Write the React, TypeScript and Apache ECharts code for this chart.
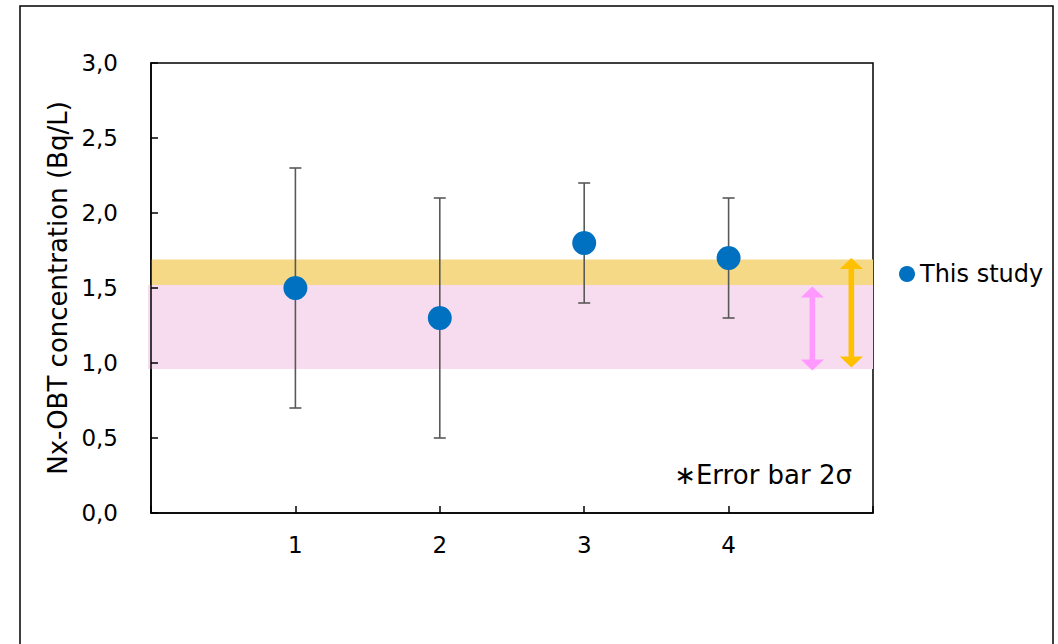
import React, { useEffect, useRef } from "react";
import * as echarts from "echarts";

// ---- data ----
const categories = [1, 2, 3, 4];
const values = [1.5, 1.3, 1.8, 1.7];
const errLow = [0.7, 0.5, 1.4, 1.3];
const errHigh = [2.3, 2.1, 2.2, 2.1];
const yTickValues = [0, 0.5, 1, 1.5, 2, 2.5, 3];
const xTickLabels = ["1", "2", "3", "4"];
const bandLow = [0.96, 1.52];
const bandHigh = [1.52, 1.69];
const arrowX = [4.58, 4.85];
const arrowLow = [0.95, 0.97];
const arrowHigh = [1.51, 1.7];
const seriesName = "This study";
const noteText = "∗Error bar 2σ";
const yTitle = "Nx-OBT concentration (Bq/L)";

const bandColors = ["#F7DCEF", "#F6D987"];
const arrowColors = ["#FF99FF", "#FFC000"];
const FONT = "DejaVu Sans";

export default function App() {
  const ref = useRef<HTMLDivElement>(null);
  useEffect(() => {
    if (!ref.current) return;
    const chart = echarts.init(ref.current, null, { renderer: "svg" });

    const bandData = bandLow.map((l, i) => [l, bandHigh[i], i]);
    const arrowData = arrowX.map((x, i) => [x, arrowLow[i], arrowHigh[i], i]);
    const errData = categories.map((c, i) => [c, errLow[i], errHigh[i]]);
    const pointData = categories.map((c, i) => [c, values[i]]);

    const option: any = {
      animation: false,
      backgroundColor: "#fff",
      grid: {
        left: 151,
        right: 185,
        top: 63,
        bottom: 131,
        show: true,
        borderColor: "#000",
        borderWidth: 1.5,
        backgroundColor: "transparent",
      },
      legend: {
        data: [{ name: seriesName, icon: "circle" }],
        left: 899,
        top: 262,
        padding: 0,
        itemWidth: 16,
        itemHeight: 16,
        textStyle: { fontFamily: FONT, fontSize: 24, color: "#000" },
      },
      xAxis: {
        type: "value",
        min: 0,
        max: 5,
        interval: 1,
        z: 5,
        axisLine: { show: true, lineStyle: { color: "#000", width: 1.5 } },
        axisTick: { show: true, inside: true, length: 7, lineStyle: { color: "#000", width: 1.5 } },
        splitLine: { show: false },
        axisLabel: {
          margin: 20,
          fontFamily: FONT,
          fontSize: 23,
          color: "#000",
          formatter: (v: number) => {
            const idx = categories.indexOf(v);
            return idx >= 0 ? xTickLabels[idx] : "";
          },
        },
      },
      yAxis: {
        type: "value",
        min: 0,
        max: 3,
        interval: 0.5,
        z: 5,
        name: yTitle,
        nameLocation: "middle",
        nameGap: 76,
        nameTextStyle: { fontFamily: FONT, fontSize: 26, color: "#000" },
        axisLine: { show: true, lineStyle: { color: "#000", width: 1.5 } },
        axisTick: { show: true, inside: true, length: 7, lineStyle: { color: "#000", width: 1.5 } },
        splitLine: { show: false },
        axisLabel: {
          margin: 33,
          fontFamily: FONT,
          fontSize: 23,
          color: "#000",
          formatter: (v: number) =>
            yTickValues.some((t) => Math.abs(t - v) < 1e-9) ? v.toFixed(1).replace(".", ",") : "",
        },
      },
      series: [
        {
          type: "custom",
          name: "bands",
          z: 1,
          silent: true,
          data: bandData,
          renderItem: (params: any, api: any) => {
            const lo = api.value(0);
            const hi = api.value(1);
            const idx = api.value(2);
            const p1 = api.coord([0, hi]);
            const p2 = api.coord([5, lo]);
            const extraLeft = idx === 0 ? 3 : 0;
            return {
              type: "rect",
              shape: { x: p1[0] - extraLeft, y: p1[1], width: p2[0] - p1[0] + extraLeft, height: p2[1] - p1[1] },
              style: { fill: bandColors[idx] },
            };
          },
        },
        {
          type: "custom",
          name: "arrows",
          z: 3,
          silent: true,
          data: arrowData,
          renderItem: (params: any, api: any) => {
            const x = api.value(0);
            const lo = api.value(1);
            const hi = api.value(2);
            const idx = api.value(3);
            const top = api.coord([x, hi]);
            const bot = api.coord([x, lo]);
            const cx = top[0];
            const hw = 11.5;
            const hh = 11;
            const sw = 2.8;
            const pts = [
              [cx, top[1]],
              [cx + hw, top[1] + hh],
              [cx + sw, top[1] + hh],
              [cx + sw, bot[1] - hh],
              [cx + hw, bot[1] - hh],
              [cx, bot[1]],
              [cx - hw, bot[1] - hh],
              [cx - sw, bot[1] - hh],
              [cx - sw, top[1] + hh],
              [cx - hw, top[1] + hh],
            ];
            return {
              type: "polygon",
              shape: { points: pts },
              style: { fill: arrowColors[idx] },
            };
          },
        },
        {
          type: "custom",
          name: "errors",
          z: 3,
          silent: true,
          data: errData,
          renderItem: (params: any, api: any) => {
            const x = api.value(0);
            const lo = api.coord([x, api.value(1)]);
            const hi = api.coord([x, api.value(2)]);
            const cw = 6;
            const st = { stroke: "#595959", lineWidth: 1.6 };
            return {
              type: "group",
              children: [
                { type: "line", shape: { x1: lo[0], y1: lo[1], x2: hi[0], y2: hi[1] }, style: st },
                { type: "line", shape: { x1: hi[0] - cw, y1: hi[1], x2: hi[0] + cw, y2: hi[1] }, style: st },
                { type: "line", shape: { x1: lo[0] - cw, y1: lo[1], x2: lo[0] + cw, y2: lo[1] }, style: st },
              ],
            };
          },
        },
        {
          type: "scatter",
          name: seriesName,
          z: 4,
          symbol: "circle",
          symbolSize: 24,
          itemStyle: { color: "#0070C0", opacity: 1 },
          data: pointData,
        },
      ],
      graphic: [
        {
          type: "rect",
          silent: true,
          shape: { x: 20, y: 6, width: 1033, height: 700 },
          style: { fill: "none", stroke: "#000", lineWidth: 1.5 },
          z: 0,
        },
        {
          type: "text",
          x: 852,
          y: 475,
          style: {
            text: noteText,
            align: "right",
            verticalAlign: "middle",
            fontFamily: FONT,
            fontSize: 26,
            fill: "#000",
          },
        },
      ],
    };
    chart.setOption(option);
    return () => chart.dispose();
  }, []);
  return (
    <div
      ref={ref}
      style={{ position: "fixed", left: 0, top: 0, width: 1058, height: 644, background: "#fff" }}
    />
  );
}
